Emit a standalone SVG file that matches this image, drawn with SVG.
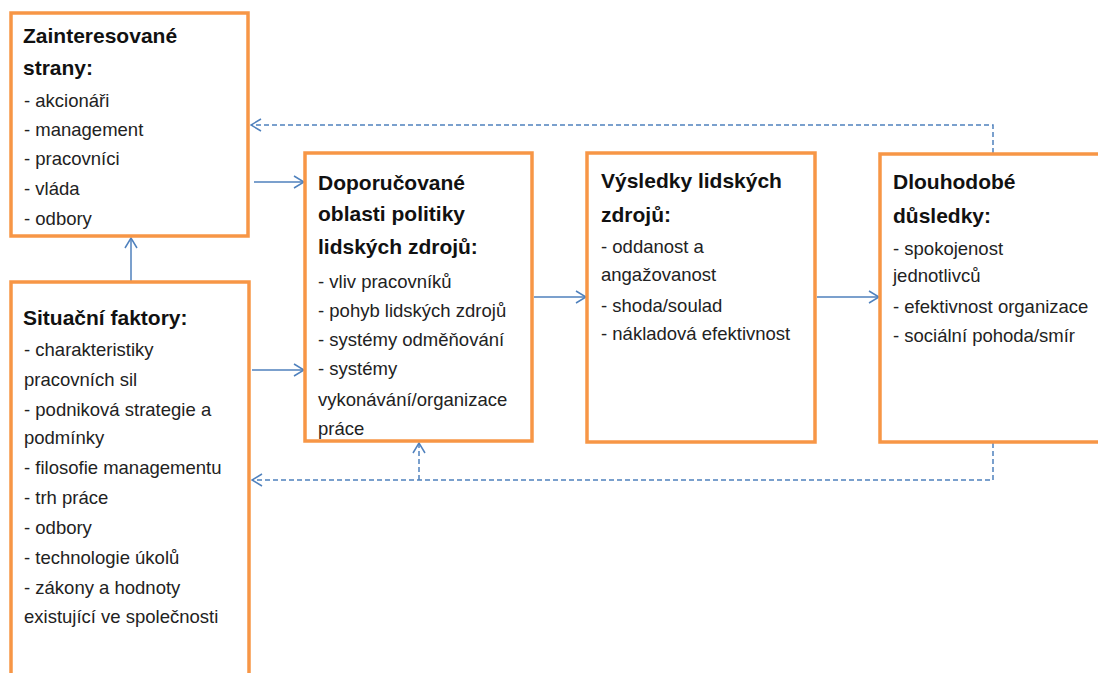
<svg xmlns="http://www.w3.org/2000/svg" width="1098" height="673" viewBox="0 0 1098 673">
<style>
.box{fill:#fff;stroke:#F79646;stroke-width:3.5}
.t{font-family:"Liberation Sans",Arial,sans-serif;font-weight:bold;font-size:21px;fill:#111}
.i{font-family:"Liberation Sans",Arial,sans-serif;font-size:18.5px;fill:#222}
.c{fill:none;stroke:#4F81BD;stroke-width:1.5}
.d{fill:none;stroke:#4F81BD;stroke-width:1.5;stroke-dasharray:5 3}
</style>
<defs>
<marker id="ah" markerWidth="12" markerHeight="14" refX="11" refY="7" orient="auto" markerUnits="userSpaceOnUse">
<path d="M1,1 L11,7 L1,13" fill="none" stroke="#4F81BD" stroke-width="1.5"/>
</marker>
</defs>
<rect width="1098" height="673" fill="#fff"/>
<g id="connectors">
<line class="c" x1="254" y1="182" x2="304" y2="182" marker-end="url(#ah)"/>
<line class="c" x1="252" y1="370" x2="304" y2="370" marker-end="url(#ah)"/>
<line class="c" x1="534" y1="297" x2="586" y2="297" marker-end="url(#ah)"/>
<line class="c" x1="817" y1="297" x2="879" y2="297" marker-end="url(#ah)"/>
<line class="c" x1="131" y1="281" x2="131" y2="238" marker-end="url(#ah)"/>
<polyline class="d" points="993,153 993,125 251,125" marker-end="url(#ah)"/>
<polyline class="d" points="993,443 993,480 252,480" marker-end="url(#ah)"/>
<line class="d" x1="419" y1="480" x2="419" y2="443" marker-end="url(#ah)"/>
</g>
<g id="zainteresovane">
<rect class="box" x="11" y="13" width="237" height="223"/>
<text class="t" x="23" y="43">Zainteresované</text>
<text class="t" x="23" y="75">strany:</text>
<text class="i" x="24" y="107">- akcionáři</text>
<text class="i" x="24" y="136">- management</text>
<text class="i" x="24" y="165">- pracovníci</text>
<text class="i" x="24" y="195">- vláda</text>
<text class="i" x="24" y="225">- odbory</text>
</g>
<g id="situacni">
<rect class="box" x="11" y="282" width="238" height="400"/>
<text class="t" x="23" y="325">Situační faktory:</text>
<text class="i" x="24" y="356">- charakteristiky</text>
<text class="i" x="24" y="386">pracovních sil</text>
<text class="i" x="24" y="416">- podniková strategie a</text>
<text class="i" x="24" y="444">podmínky</text>
<text class="i" x="24" y="474">- filosofie managementu</text>
<text class="i" x="24" y="504">- trh práce</text>
<text class="i" x="24" y="534">- odbory</text>
<text class="i" x="24" y="564">- technologie úkolů</text>
<text class="i" x="24" y="594">- zákony a hodnoty</text>
<text class="i" x="24" y="623">existující ve společnosti</text>
</g>
<g id="doporucovane">
<rect class="box" x="305" y="153" width="227" height="288"/>
<text class="t" x="318" y="190">Doporučované</text>
<text class="t" x="318" y="221">oblasti politiky</text>
<text class="t" x="318" y="254">lidských zdrojů:</text>
<text class="i" x="318" y="288">- vliv pracovníků</text>
<text class="i" x="318" y="317">- pohyb lidských zdrojů</text>
<text class="i" x="318" y="346">- systémy odměňování</text>
<text class="i" x="318" y="375">- systémy</text>
<text class="i" x="318" y="406">vykonávání/organizace</text>
<text class="i" x="318" y="435">práce</text>
</g>
<g id="vysledky">
<rect class="box" x="587" y="153" width="228" height="289"/>
<text class="t" x="601" y="188">Výsledky lidských</text>
<text class="t" x="601" y="222">zdrojů:</text>
<text class="i" x="601" y="253">- oddanost a</text>
<text class="i" x="601" y="281">angažovanost</text>
<text class="i" x="601" y="312">- shoda/soulad</text>
<text class="i" x="601" y="340">- nákladová efektivnost</text>
</g>
<g id="dlouhodobe">
<rect class="box" x="880" y="154" width="230" height="288"/>
<text class="t" x="893" y="189">Dlouhodobé</text>
<text class="t" x="893" y="223">důsledky:</text>
<text class="i" x="893" y="255">- spokojenost</text>
<text class="i" x="893" y="282">jednotlivců</text>
<text class="i" x="893" y="313">- efektivnost organizace</text>
<text class="i" x="893" y="342">- sociální pohoda/smír</text>
</g>
</svg>
